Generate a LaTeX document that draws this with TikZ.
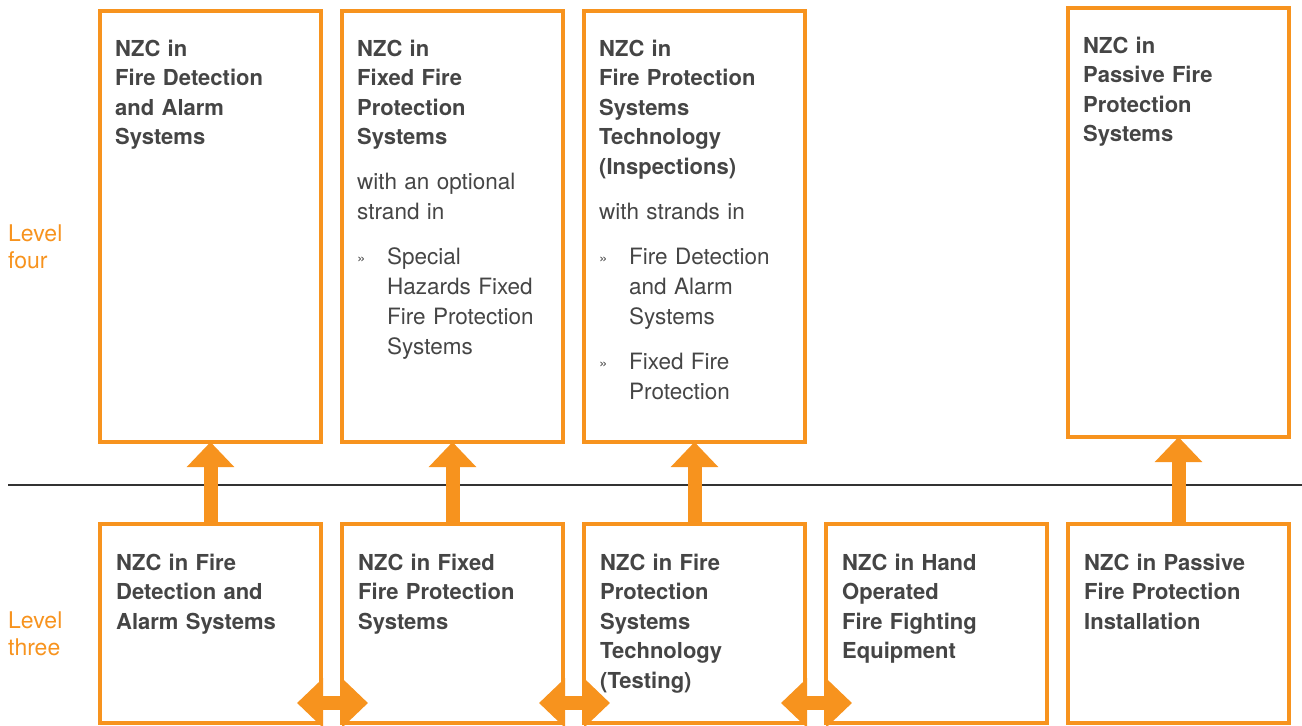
\documentclass[tikz,border=0pt]{standalone}
\usepackage{fontspec}
\setmainfont{TeX Gyre Heros}
\usetikzlibrary{positioning,arrows.meta}
\definecolor{nzcorange}{HTML}{F7931E}
\definecolor{nzcgrey}{HTML}{454545}
\definecolor{rulegrey}{HTML}{333333}
\newcommand{\strand}[1]{\par\vspace{15pt}\leftskip=30pt\noindent\hspace*{-30pt}%
  \makebox[30pt][l]{\fontsize{15}{15}\selectfont\raisebox{1pt}{»}}#1\par}
\newcommand{\gap}{\par\vspace{15pt}\fontsize{22.5}{30}\selectfont\mdseries\noindent}
\tikzset{
  box/.style={draw=nzcorange,line width=4pt,minimum width=221pt,inner sep=0pt,outer sep=0pt},
  tall/.style={box,minimum height=431pt},
  short/.style={box,minimum height=199pt},
  txt/.style={anchor=base west,text width=205pt,align=left,inner sep=0pt,
    font=\fontsize{22}{29.5}\selectfont\bfseries,text=nzcgrey},
  lvl/.style={anchor=base west,text width=80pt,align=left,inner sep=0pt,
    font=\fontsize{23}{27}\selectfont,text=nzcorange},
  uparr/.style={draw=nzcorange,line width=14pt,-{Triangle[width=46pt,length=25pt]}},
  dblarr/.style={draw=nzcorange,line width=14pt,
    {Triangle[width=48pt,length=26pt]}-{Triangle[width=48pt,length=26pt]}}
}
\begin{document}
\begin{tikzpicture}[x=1pt,y=-1pt]
\useasboundingbox (0,0) rectangle (1302,726);
% level four
\node[tall] (b1t) at (210.5,226.5) {};
\node[tall,right=21pt of b1t] (b2t) {};
\node[tall,right=21pt of b2t] (b3t) {};
\node[box,minimum height=429pt] (b4t) at (1178.5,222.5) {};
% level three
\node[short] (b1s) at (210.5,623.5) {};
\node[short,right=21pt of b1s] (b2s) {};
\node[short,right=21pt of b2s] (b3s) {};
\node[short,right=21pt of b3s] (b4s) {};
\node[short,right=21pt of b4s] (b5s) {};
% texts
\node[txt] (t1t) at ([shift={(15pt,-45pt)}]b1t.north west)
  {NZC in\\ Fire Detection\\ and Alarm\\ Systems};
\node[txt] (t2t) at ([shift={(15pt,-45pt)}]b2t.north west)
  {NZC in\\ Fixed Fire\\ Protection\\ Systems\gap with an optional\\ strand in
   \strand{Special\\ Hazards Fixed\\ Fire Protection\\ Systems}};
\node[txt] (t3t) at ([shift={(15pt,-45pt)}]b3t.north west)
  {NZC in\\ Fire Protection\\ Systems\\ Technology\\ (Inspections)\gap with strands in
   \strand{Fire Detection\\ and Alarm\\ Systems}
   \strand{Fixed Fire\\ Protection}};
\node[txt] (t4t) at ([shift={(15pt,-45pt)}]b4t.north west)
  {NZC in\\ Passive Fire\\ Protection\\ Systems};
\node[txt] (t1s) at ([shift={(16pt,-46pt)}]b1s.north west)
  {NZC in Fire\\ Detection and\\ Alarm Systems};
\node[txt] (t2s) at ([shift={(16pt,-46pt)}]b2s.north west)
  {NZC in Fixed\\ Fire Protection\\ Systems};
\node[txt] (t3s) at ([shift={(16pt,-46pt)}]b3s.north west)
  {NZC in Fire\\ Protection\\ Systems\\ Technology\\ (Testing)};
\node[txt] (t4s) at ([shift={(16pt,-46pt)}]b4s.north west)
  {NZC in Hand\\ Operated\\ Fire Fighting\\ Equipment};
\node[txt] (t5s) at ([shift={(16pt,-46pt)}]b5s.north west)
  {NZC in Passive\\ Fire Protection\\ Installation};
% levels and divider
\node[lvl] (l4) at (8,241) {Level\\ four};
\node[lvl] (l3) at (8,628) {Level\\ three};
\coordinate (divL) at (8,485);
\coordinate (divR) at (1302,485);
\draw[rulegrey,line width=1.2pt] (divL) -- (divR);
% arrows
\draw[uparr] (b1s.north) -- (b1t.south);
\draw[uparr] (b2s.north) -- (b2t.south);
\draw[uparr] (b3s.north) -- (b3t.south);
\draw[uparr] (b5s.north) -- (b4t.south);
\draw[dblarr] ([shift={(-24pt,20pt)}]b1s.south east) -- ([shift={(26pt,20pt)}]b2s.south west);
\draw[dblarr] ([shift={(-24pt,20pt)}]b2s.south east) -- ([shift={(26pt,20pt)}]b3s.south west);
\draw[dblarr] ([shift={(-24pt,20pt)}]b3s.south east) -- ([shift={(26pt,20pt)}]b4s.south west);
\end{tikzpicture}
\end{document}
